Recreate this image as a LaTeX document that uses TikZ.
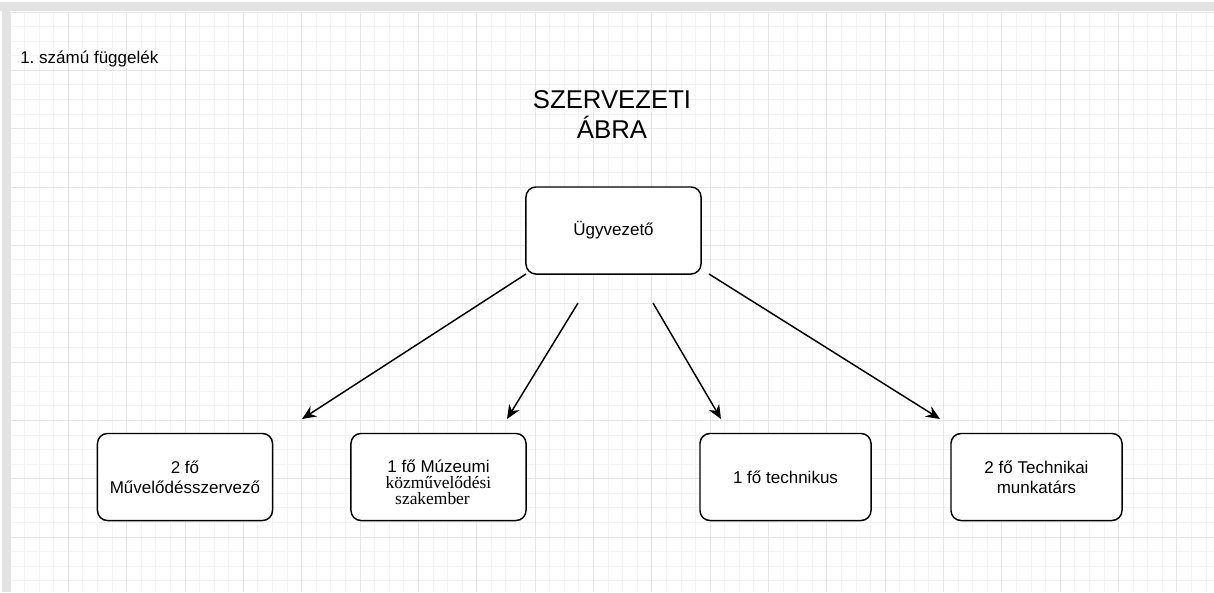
\documentclass[tikz,border=0pt]{standalone}
\usepackage{fontspec}
\setmainfont{Liberation Sans}
\newfontfamily\timesfont{Liberation Serif}
\usetikzlibrary{arrows.meta}
\definecolor{gridminor}{HTML}{F3F3F3}
\definecolor{gridmajor}{HTML}{E6E6E6}
\definecolor{framegray}{HTML}{E3E3E3}

\begin{document}
\begin{tikzpicture}[x=0.025cm, y=-0.025cm,
    box/.style={draw, line width=1.05pt, rounded corners=0.25cm, fill=white,
        minimum width=4.375cm, minimum height=2.175cm, align=center, inner sep=0pt,
        font=\fontsize{12.1pt}{14.2pt}\selectfont},
    arrow/.style={line width=1.05pt, -{Stealth[length=0.35cm, width=0.3cm]}}]
    % Background
    \useasboundingbox (0,0) rectangle (1214,592);
    \fill[white] (0,0) rectangle (1214,592);
    \begin{scope}[shift={(10,12)}]
        \draw[gridminor, line width=0.7pt, step=0.36458cm] (0,580) grid (1204,0);
        \draw[gridmajor, line width=0.7pt, step=1.45833cm] (0,580) grid (1204,0);
    \end{scope}
    \fill[framegray] (0,2) rectangle (1214,11);
    \fill[framegray] (2,2) rectangle (10,592);

    % Texts
    \node[anchor=base west, inner sep=0pt, font=\fontsize{12.1pt}{14.2pt}\selectfont] (appendix) at (20,63) {1.\ számú függelék};
    \node[inner sep=0pt, align=center, font=\fontsize{18.3pt}{22pt}\selectfont] (title) at (612,114.5) {SZERVEZETI\\ÁBRA};

    % Boxes
    \node[box] (boss) at (613.5,230.5) {Ügyvezető};
    \node[box] (organiser) at (185,477) {2 fő\\Művelődésszervező};
    \node[box, font=\fontsize{12.1pt}{11.4pt}\selectfont] (museum) at (438.5,477)
        {\rule{0pt}{0.58cm}1 fő Múzeumi\\{\timesfont\fontsize{12.4pt}{11.4pt}\selectfont közművelődési}\\{\timesfont\fontsize{12.4pt}{11.4pt}\selectfont szakember}\hspace*{0.3cm}};
    \node[box, minimum width=4.275cm] (technician) at (785.5,477) {1 fő technikus};
    \node[box, minimum width=4.275cm] (staff) at (1036.5,477) {2 fő Technikai\\munkatárs};

    % Arrow ends
    \coordinate (s1) at (526,274);
    \coordinate (s2) at (578,303);
    \coordinate (s3) at (653,303);
    \coordinate (s4) at (709,274);
    \coordinate (e1) at (302,419);
    \coordinate (e2) at (507,419);
    \coordinate (e3) at (721,419);
    \coordinate (e4) at (940,419);

    % Arrows
    \draw[arrow] (s1) -- (e1);
    \draw[arrow] (s2) -- (e2);
    \draw[arrow] (s3) -- (e3);
    \draw[arrow] (s4) -- (e4);
\end{tikzpicture}
\end{document}
